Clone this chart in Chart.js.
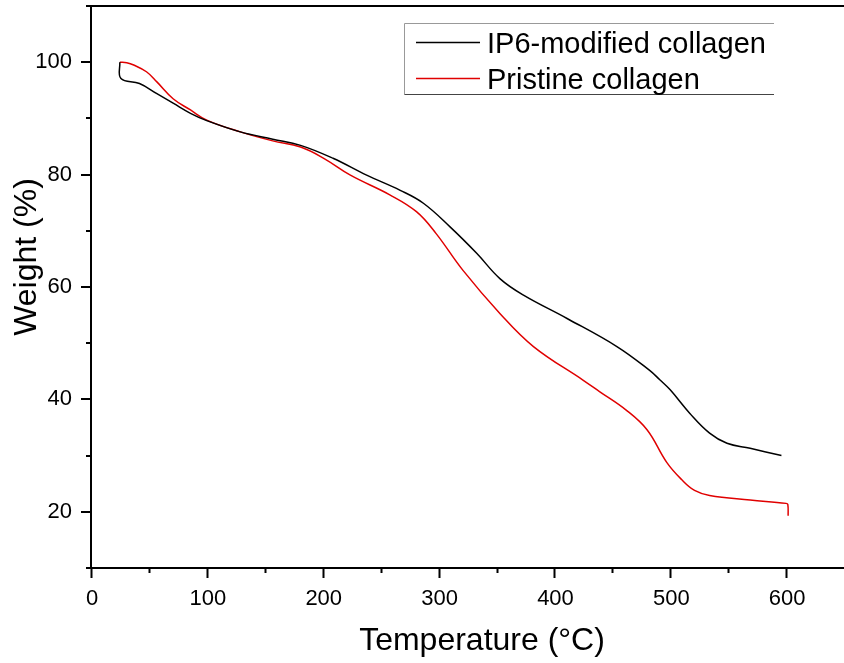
<!DOCTYPE html>
<html>
<head>
<meta charset="utf-8">
<script src="https://cdn.jsdelivr.net/npm/chart.js@4"></script>
<style>
  body { margin: 0; background: #fff; }
  canvas { display: block; }
</style>
</head>
<body>
<canvas id="myChart" width="844" height="663"></canvas>
<script>
// TGA curves
const seriesNames = ['IP6-modified collagen', 'Pristine collagen'];

const tempIP6 = [24, 25, 41, 56, 70, 85, 99, 128, 156, 180, 208, 237, 266, 286, 309, 332, 352, 372, 410, 453, 481, 490, 499, 516, 533, 548, 568, 595];
const weightIP6 = [100.0, 97.1, 96.2, 94.4, 92.7, 90.9, 89.6, 87.6, 86.3, 85.2, 82.9, 79.9, 77.2, 74.9, 70.7, 66.0, 61.5, 58.6, 54.4, 49.4, 45.2, 43.5, 41.7, 37.5, 34.0, 32.2, 31.3, 30.0];

const tempPristine = [24, 30, 36, 47, 56, 70, 85, 99, 128, 156, 180, 200, 223, 257, 280, 297, 320, 352, 381, 424, 438, 461, 479, 496, 509, 520, 533, 568, 599, 600.5, 600.8];
const weightPristine = [100.0, 99.9, 99.5, 98.3, 96.5, 93.5, 91.5, 89.7, 87.6, 86.0, 84.9, 82.9, 79.9, 76.4, 73.4, 69.5, 63.0, 55.3, 49.4, 43.4, 41.4, 38.1, 34.6, 28.8, 25.7, 23.8, 22.9, 22.1, 21.5, 21.3, 19.3];

const xTicks = [0, 100, 200, 300, 400, 500, 600];
const yTicks = [20, 40, 60, 80, 100];

const FONT = "'Liberation Sans', Arial, sans-serif";

function toPoints(xs, ys) {
    return xs.map((x, i) => ({ x: x, y: ys[i] }));
}

function noPadding(scale) {
    scale.paddingTop = 0;
    scale.paddingBottom = 0;
    scale.paddingLeft = 0;
    scale.paddingRight = 0;
}

// axes frame, ticks, titles and the boxed legend
const framePlugin = {
    id: 'frame',
    afterDraw(chart) {
        const ctx = chart.ctx;
        const xs = chart.scales.x;
        const ys = chart.scales.y;
        ctx.save();
        ctx.strokeStyle = '#000';
        ctx.lineWidth = 2;
        ctx.beginPath();
        ctx.moveTo(86, 6); ctx.lineTo(844, 6);
        ctx.moveTo(91, 5); ctx.lineTo(91, 569);
        ctx.moveTo(86, 568); ctx.lineTo(844, 568);
        // x ticks (major every 100, minor every 50)
        for (let v = 0; v <= xs.max; v += 50) {
            const px = Math.round(xs.getPixelForValue(v)) - 0.5;
            const len = v % 100 === 0 ? 10 : 5;
            ctx.moveTo(px, 568); ctx.lineTo(px, 568 + len);
        }
        // y ticks (major every 20, minor every 10)
        for (let v = 10; v <= ys.max; v += 10) {
            const py = Math.round(ys.getPixelForValue(v));
            const len = v % 20 === 0 ? 10 : 5;
            ctx.moveTo(91, py); ctx.lineTo(91 - len, py);
        }
        ctx.stroke();

        // axis titles
        ctx.fillStyle = '#000';
        ctx.font = '32px ' + FONT;
        ctx.textAlign = 'center';
        ctx.textBaseline = 'alphabetic';
        ctx.fillText('Temperature (°C)', 482, 650);
        ctx.save();
        ctx.translate(36, 257);
        ctx.rotate(-Math.PI / 2);
        ctx.fillText('Weight (%)', 0, 0);
        ctx.restore();

        // legend box
        ctx.lineWidth = 1;
        ctx.strokeStyle = '#999';
        ctx.beginPath();
        ctx.moveTo(404.5, 23.5); ctx.lineTo(774, 23.5);
        ctx.moveTo(404.5, 23.5); ctx.lineTo(404.5, 94.5);
        ctx.stroke();
        ctx.strokeStyle = '#444';
        ctx.beginPath();
        ctx.moveTo(404.5, 94.5); ctx.lineTo(774, 94.5);
        ctx.stroke();

        ctx.font = '29px ' + FONT;
        ctx.textAlign = 'left';
        const rows = [42.5, 78.5];
        chart.data.datasets.forEach((ds, i) => {
            ctx.strokeStyle = ds.borderColor;
            ctx.lineWidth = 1.5;
            ctx.beginPath();
            ctx.moveTo(416, rows[i]); ctx.lineTo(480, rows[i]);
            ctx.stroke();
            ctx.fillStyle = '#000';
            ctx.fillText(ds.label, 487, rows[i] + 10);
        });
        ctx.restore();
    }
};

const ctx = document.getElementById('myChart').getContext('2d');

new Chart(ctx, {
    type: 'line',
    data: {
        datasets: [{
            label: seriesNames[0],
            data: toPoints(tempIP6, weightIP6),
            borderColor: '#000000',
            borderWidth: 1.5,
            pointRadius: 0,
            tension: 0.4,
            fill: false
        }, {
            label: seriesNames[1],
            data: toPoints(tempPristine, weightPristine),
            borderColor: '#e00000',
            borderWidth: 1.5,
            pointRadius: 0,
            tension: 0.4,
            fill: false
        }]
    },
    options: {
        responsive: false,
        animation: false,
        layout: { padding: { top: 6, left: 0, right: 0, bottom: 0 } },
        plugins: {
            legend: { display: false },
            tooltip: { enabled: false }
        },
        scales: {
            x: {
                type: 'linear',
                min: 0,
                max: 649,
                afterFit: (scale) => { scale.height = 95; noPadding(scale); },
                grid: { display: false, drawTicks: false },
                border: { display: false },
                ticks: {
                    stepSize: 100,
                    includeBounds: false,
                    autoSkip: false,
                    maxRotation: 0,
                    padding: 18,
                    color: '#000',
                    font: { family: FONT, size: 22 },
                    callback: (v) => xTicks.includes(v) ? v : ''
                }
            },
            y: {
                min: 10,
                max: 110,
                afterFit: (scale) => { scale.width = 92; noPadding(scale); },
                grid: { display: false, drawTicks: false },
                border: { display: false },
                ticks: {
                    stepSize: 10,
                    includeBounds: false,
                    autoSkip: false,
                    padding: 20,
                    color: '#000',
                    font: { family: FONT, size: 22 },
                    callback: (v) => yTicks.includes(v) ? v : ''
                }
            }
        }
    },
    plugins: [framePlugin]
});
</script>
</body>
</html>
